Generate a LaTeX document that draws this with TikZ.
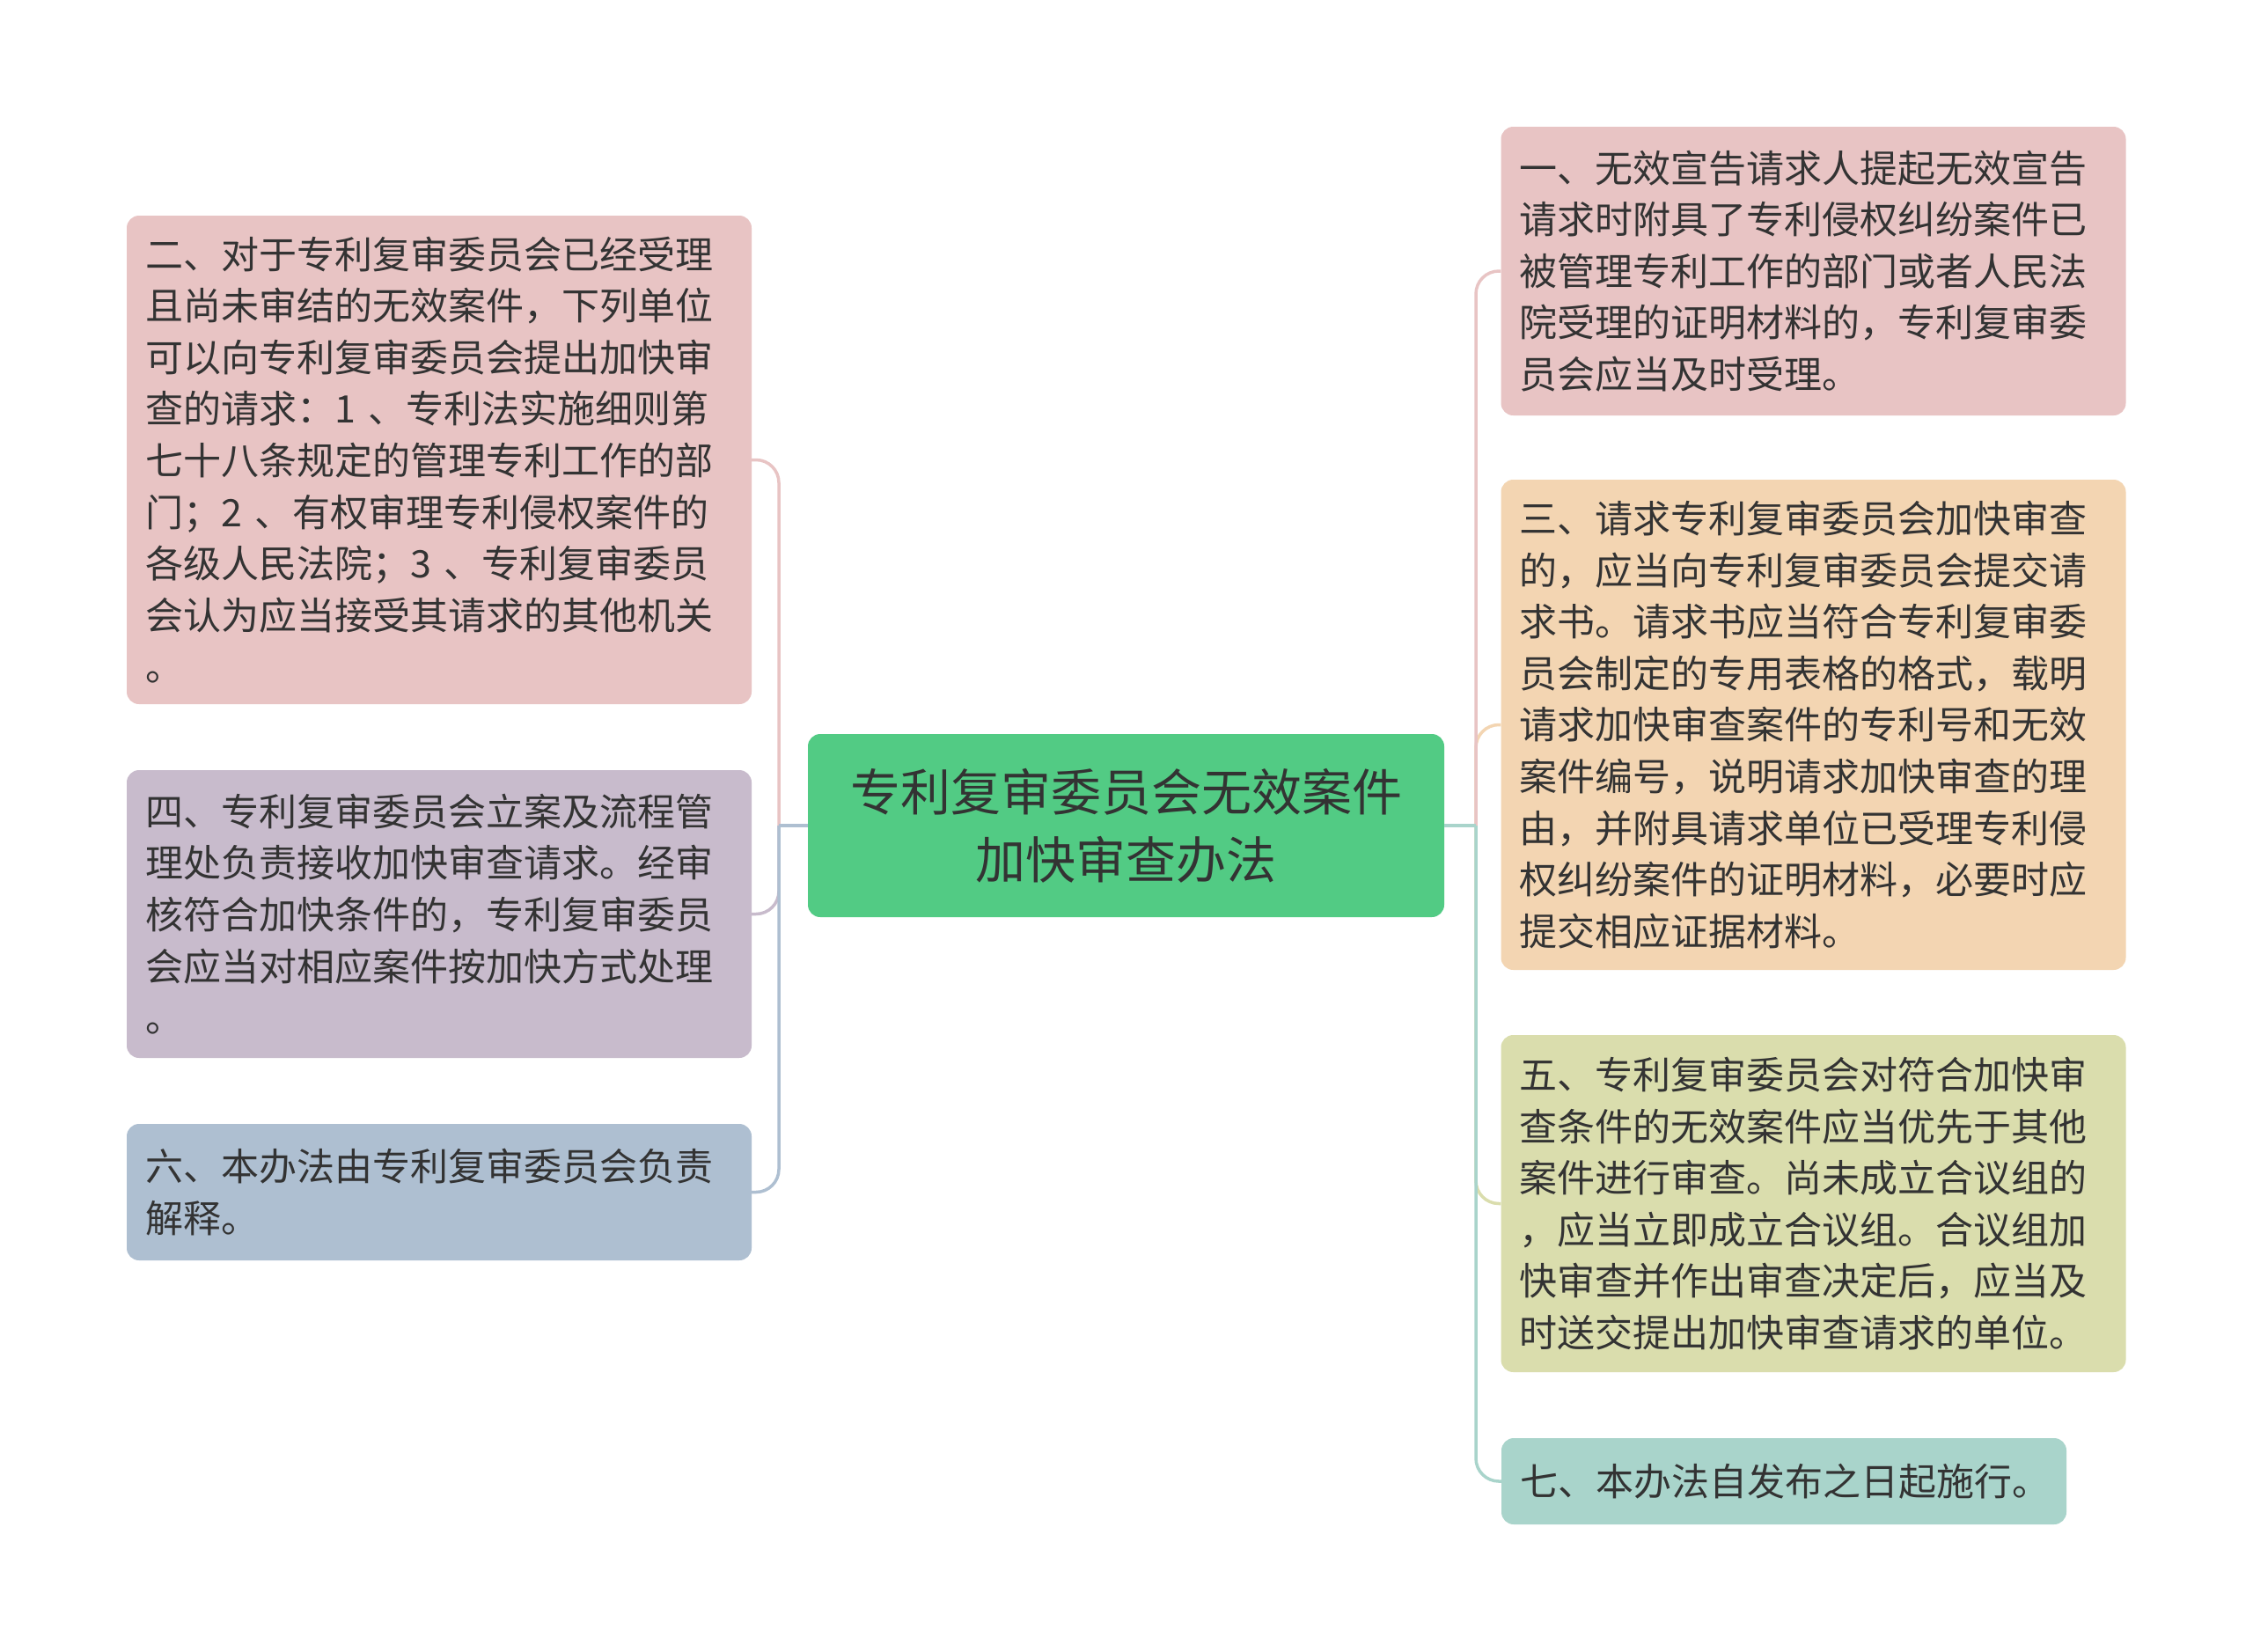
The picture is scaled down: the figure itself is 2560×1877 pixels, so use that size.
\documentclass[tikz,border=0pt]{standalone}
\usepackage{fontspec}
\setmainfont{Noto Sans CJK SC}
\definecolor{cPink}{HTML}{E8C4C4}
\definecolor{cPurple}{HTML}{C8BBCC}
\definecolor{cBlue}{HTML}{AEBFD1}
\definecolor{cPeach}{HTML}{F3D5B2}
\definecolor{cOlive}{HTML}{DADDAD}
\definecolor{cTeal}{HTML}{A9D4CB}
\definecolor{cGreen}{HTML}{52CB84}
\definecolor{cText}{HTML}{333333}
\begin{document}
\begin{tikzpicture}[x=1pt,y=-1pt,
  box/.style={rounded corners=14pt, inner xsep=21pt, inner ysep=0pt, align=left,
    text=cText, font=\fontsize{43}{58.6}\selectfont, text width=668pt, anchor=center},
  link/.style={line width=3.5pt, rounded corners=26pt}]
\useasboundingbox (0,0) rectangle (2560,1877);
\fill[white] (0,0) rectangle (2560,1877);

% central
\node[rounded corners=14pt, fill=cGreen, minimum width=723pt, minimum height=208pt,
  align=center, text=cText, font=\fontsize{57}{77}\selectfont, inner sep=0pt]
  (c) at (1279.5,938) {专利复审委员会无效案件\\加快审查办法};

% left boxes
\node[box, fill=cPink, minimum width=710pt, minimum height=555pt] (n2) at (499,522.5)
 {二、对于专利复审委员会已经受理\\且尚未审结的无效案件，下列单位\\可以向专利复审委员会提出加快审\\查的请求：1 、专利法实施细则第\\七十八条规定的管理专利工作的部\\门；2 、有权审理专利侵权案件的\\各级人民法院；3 、专利复审委员\\会认为应当接受其请求的其他机关\\。};
\node[box, fill=cPurple, minimum width=710pt, minimum height=327pt] (n4) at (499,1038.5)
 {四、专利复审委员会立案及流程管\\理处负责接收加快审查请求。经审\\核符合加快条件的，专利复审委员\\会应当对相应案件按加快方式处理\\。};
\node[box, fill=cBlue, minimum width=710pt, minimum height=155pt] (n6) at (499,1354.5)
 {六、本办法由专利复审委员会负责\\解释。};

% right boxes
\node[box, fill=cPink, minimum width=709pt, minimum height=328pt] (n1) at (2060.5,308)
 {一、无效宣告请求人提起无效宣告\\请求时附具了专利侵权纠纷案件已\\被管理专利工作的部门或者人民法\\院受理的证明材料的，专利复审委\\员会应当及时受理。};
\node[box, fill=cPeach, minimum width=709pt, minimum height=557pt] (n3) at (2060.5,823.5)
 {三、请求专利复审委员会加快审查\\的，应当向专利复审委员会提交请\\求书。请求书应当符合专利复审委\\员会制定的专用表格的格式，载明\\请求加快审查案件的专利号和无效\\案件编号，说明请求加快审查的理\\由，并附具请求单位已受理专利侵\\权纠纷案件的证明材料，必要时应\\提交相应证据材料。};
\node[box, fill=cOlive, minimum width=709pt, minimum height=383pt] (n5) at (2060.5,1367.5)
 {五、专利复审委员会对符合加快审\\查条件的无效案件应当优先于其他\\案件进行审查。尚未成立合议组的\\，应当立即成立合议组。合议组加\\快审查并作出审查决定后，应当及\\时送交提出加快审查请求的单位。};
\node[box, fill=cTeal, text width=600pt, minimum width=642pt, minimum height=98pt] (n7) at (2027,1683)
 {七、本办法自发布之日起施行。};

% junction points
\coordinate (jl) at (885,938);
\coordinate (jr) at (1677,938);

% left links
\draw[link, cPink] (jl) |- (n2.east);
\draw[link, cPurple] (jl) |- (n4.east);
\draw[link, cBlue] (jl) |- (n6.east);
\draw[line width=3.5pt, cBlue] (c.west) -- (jl);

% right links
\draw[link, cPeach] (jr) |- (n3.west);
\draw[link, cPink] (jr) |- (n1.west);
\draw[link, cOlive] (jr) |- (n5.west);
\draw[link, cTeal] (jr) |- (n7.west);
\draw[line width=3.5pt, cTeal] (c.east) -- (jr);
\end{tikzpicture}
\end{document}
